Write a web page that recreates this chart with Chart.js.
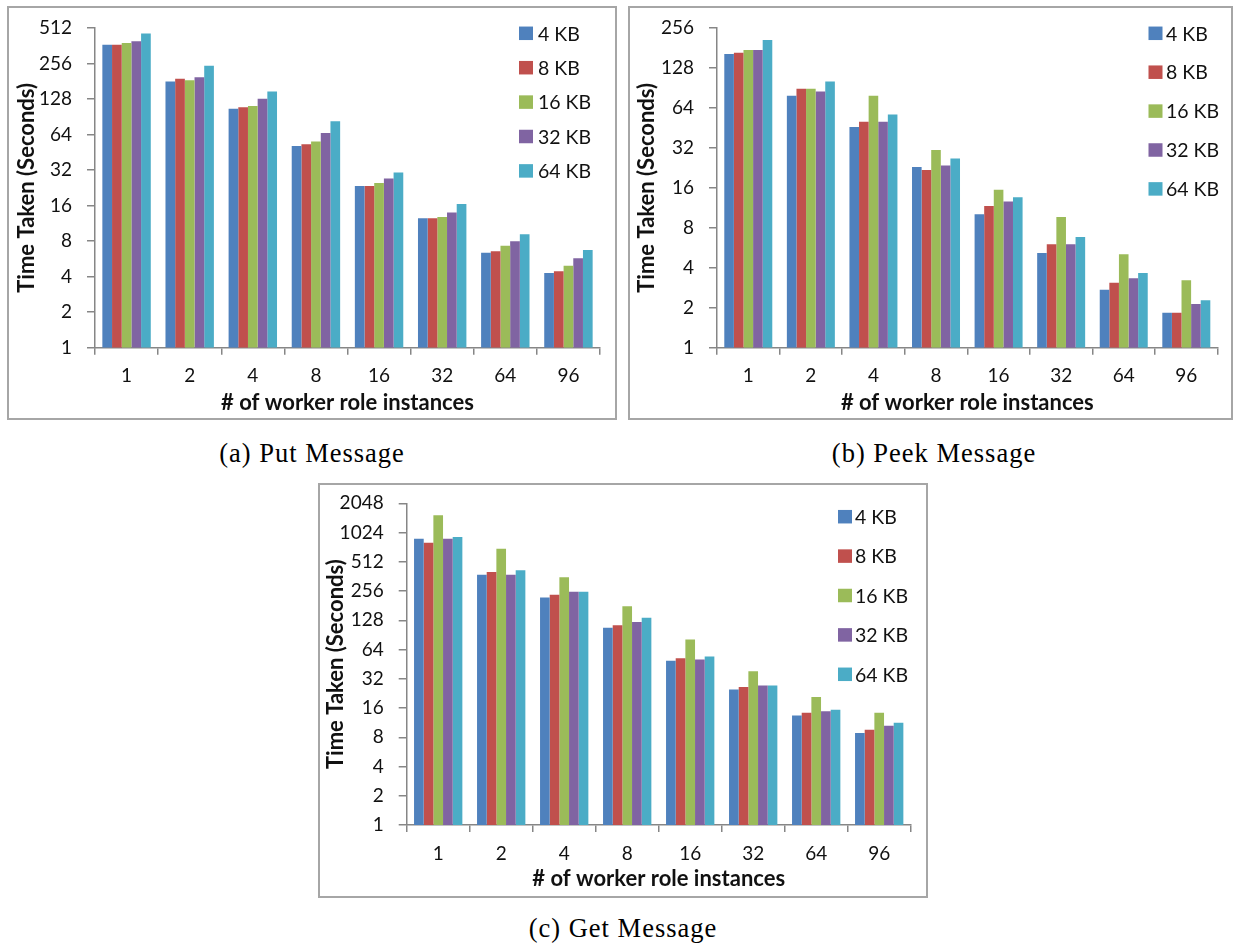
<!DOCTYPE html>
<html>
<head>
<meta charset="utf-8">
<script src="https://cdn.jsdelivr.net/npm/chart.js@4.4.1/dist/chart.umd.min.js"></script>
<style>
  html, body { margin: 0; padding: 0; background: #fff; }
  body { width: 1236px; height: 944px; position: relative; overflow: hidden; }
  .frame { position: absolute; box-sizing: border-box; border: 2px solid #a6a6a6; }
  canvas { position: absolute; }
  .caption { position: absolute; font-family: 'Liberation Serif', serif; font-size: 26.5px;
             letter-spacing: 1px; color: #000; white-space: nowrap; transform: translate(-50%, -50%); }
</style>
</head>
<body>
<div class="frame" style="left:7px;top:6px;width:610px;height:414px"></div>
<div class="frame" style="left:628px;top:6px;width:605px;height:414px"></div>
<div class="frame" style="left:318px;top:483px;width:610px;height:415px"></div>
<canvas id="putChart" width="608" height="412" style="left:8px;top:7px"></canvas>
<canvas id="peekChart" width="603" height="412" style="left:629px;top:7px"></canvas>
<canvas id="getChart" width="608" height="413" style="left:319px;top:484px"></canvas>
<div class="caption" style="left:312px;top:453px">(a) Put Message</div>
<div class="caption" style="left:934px;top:453px">(b) Peek Message</div>
<div class="caption" style="left:623px;top:928px">(c) Get Message</div>

<script>
// Number of worker role instances (x categories)
const instances = ['1', '2', '4', '8', '16', '32', '64', '96'];
// Message sizes (series)
const sizeLabels = ['4 KB', '8 KB', '16 KB', '32 KB', '64 KB'];
const sizeColors = ['#4F81BD', '#C0504D', '#9BBB59', '#8064A2', '#4BACC6'];

// Put Message: time taken in seconds
const put4KB  = [370, 180, 106, 51.2, 23.5, 12.5, 6.39, 4.30];
const put8KB  = [370, 190, 109, 52.9, 23.5, 12.5, 6.56, 4.45];
const put16KB = [383, 185, 112, 55.8, 24.9, 12.8, 7.32, 4.96];
const put32KB = [395, 196, 129, 65.9, 27.1, 14.0, 7.97, 5.72];
const put64KB = [461, 245, 148, 82.8, 30.5, 16.5, 9.13, 6.73];

// Peek Message: time taken in seconds
const peek4KB  = [163, 79,   46,   23.0, 10.1, 5.17, 2.73, 1.83];
const peek8KB  = [167, 89.2, 50.4, 21.8, 11.7, 6.01, 3.08, 1.83];
const peek16KB = [175, 89.2, 79,   30.9, 15.5, 9.64, 5.05, 3.22];
const peek32KB = [175, 85.2, 50.4, 23.6, 12.6, 6.01, 3.34, 2.13];
const peek64KB = [208, 101,  57.2, 26.6, 13.6, 6.82, 3.66, 2.28];

// Get Message: time taken in seconds
const get4KB  = [884,  376, 219, 107, 49.0, 24.8, 13.4, 8.84];
const get8KB  = [804,  403, 234, 114, 52.2, 26.4, 14.3, 9.57];
const get16KB = [1540, 697, 355, 178, 81.4, 38.3, 20.8, 14.3];
const get32KB = [884,  376, 251, 123, 50.6, 27.3, 14.8, 10.5];
const get64KB = [920,  420, 251, 136, 54.3, 27.3, 15.4, 11.3];

// Log-2 tick values of each y axis
const putTicks  = [1, 2, 4, 8, 16, 32, 64, 128, 256, 512];
const peekTicks = [1, 2, 4, 8, 16, 32, 64, 128, 256];
const getTicks  = [1, 2, 4, 8, 16, 32, 64, 128, 256, 512, 1024, 2048];

const xTitle = '# of worker role instances';
const yTitle = 'Time Taken (Seconds)';

const FONT = 'Lato, "Open Sans", sans-serif';
const AXIS_GREY = '#868686';

// Legend drawn as a column of colour boxes inside the plot, top right
const boxLegend = {
  id: 'boxLegend',
  afterDraw(chart, args, opts) {
    const ctx = chart.ctx;
    ctx.save();
    ctx.font = opts.size + 'px ' + FONT;
    ctx.textBaseline = 'middle';
    ctx.textAlign = 'left';
    chart.data.datasets.forEach((ds, i) => {
      const y = opts.y0 + i * opts.dy;
      ctx.fillStyle = ds.backgroundColor;
      ctx.fillRect(opts.x, y - opts.boxH / 2, opts.boxW, opts.boxH);
      ctx.fillStyle = '#111';
      ctx.fillText(ds.label, opts.textX, y + 1);
    });
    ctx.restore();
  }
};

function buildChart(id, series, tickValues, geo, legend) {
  const canvas = document.getElementById(id);
  const W = canvas.width, H = canvas.height;
  return new Chart(canvas, {
    type: 'bar',
    data: {
      labels: instances,
      datasets: series.map((values, i) => ({
        label: sizeLabels[i],
        data: values,
        backgroundColor: sizeColors[i],
        borderWidth: 0,
        categoryPercentage: 0.767,
        barPercentage: 1.0
      }))
    },
    options: {
      responsive: false,
      animation: false,
      devicePixelRatio: 1,
      layout: { padding: { left: 0, top: geo.top, right: W - geo.right, bottom: 0 } },
      plugins: {
        legend: { display: false },
        tooltip: { enabled: false },
        boxLegend: legend
      },
      scales: {
        x: {
          offset: true,
          grid: { display: true, offset: true, drawOnChartArea: false, drawTicks: true,
                  tickLength: 7, color: AXIS_GREY, lineWidth: 1.5 },
          border: { display: true, color: AXIS_GREY, width: 1.5 },
          ticks: { color: '#111', font: { family: FONT, size: 19 }, padding: 10, maxRotation: 0 },
          title: { display: true, text: xTitle, color: '#111',
                   font: { family: FONT, size: 22, weight: 'bold' },
                   padding: { top: 0, bottom: geo.xTitlePad } },
          afterFit(scale) {
            scale.height = H - geo.bottom;
            scale.paddingLeft = 0;
            scale.paddingRight = 0;
          }
        },
        y: {
          type: 'logarithmic',
          min: tickValues[0],
          max: tickValues[tickValues.length - 1],
          afterBuildTicks(scale) { scale.ticks = tickValues.map(v => ({ value: v })); },
          grid: { display: true, drawOnChartArea: false, drawTicks: true,
                  tickLength: 8, color: AXIS_GREY, lineWidth: 1.5 },
          border: { display: true, color: AXIS_GREY, width: 1.5 },
          ticks: { color: '#111', font: { family: FONT, size: 19 }, padding: 15,
                   autoSkip: false, callback: v => String(v) },
          title: { display: true, text: yTitle, color: '#111',
                   font: { family: FONT, size: 22, weight: 'bold' },
                   padding: { top: geo.yTitlePad, bottom: 0 } },
          afterFit(scale) {
            scale.width = geo.left;
            scale.paddingTop = 0;
            scale.paddingBottom = 0;
          }
        }
      }
    },
    plugins: [boxLegend]
  });
}

buildChart('putChart',
  [put4KB, put8KB, put16KB, put32KB, put64KB], putTicks,
  { left: 87, top: 21, right: 592, bottom: 340.7, xTitlePad: 3, yTitlePad: 6 },
  { x: 511, boxW: 14, boxH: 13.5, textX: 530, y0: 26.3, dy: 34.4, size: 19.5 });

buildChart('peekChart',
  [peek4KB, peek8KB, peek16KB, peek32KB, peek64KB], peekTicks,
  { left: 88, top: 21, right: 588.6, bottom: 340.7, xTitlePad: 3, yTitlePad: 5 },
  { x: 519.5, boxW: 14, boxH: 13.5, textX: 537, y0: 26.3, dy: 38.9, size: 19.5 });

buildChart('getChart',
  [get4KB, get8KB, get16KB, get32KB, get64KB], getTicks,
  { left: 87.7, top: 19.3, right: 591.7, bottom: 341, xTitlePad: 5, yTitlePad: 3.5 },
  { x: 519, boxW: 14, boxH: 13.5, textX: 536, y0: 32.7, dy: 39.4, size: 19.5 });
</script>
</body>
</html>
